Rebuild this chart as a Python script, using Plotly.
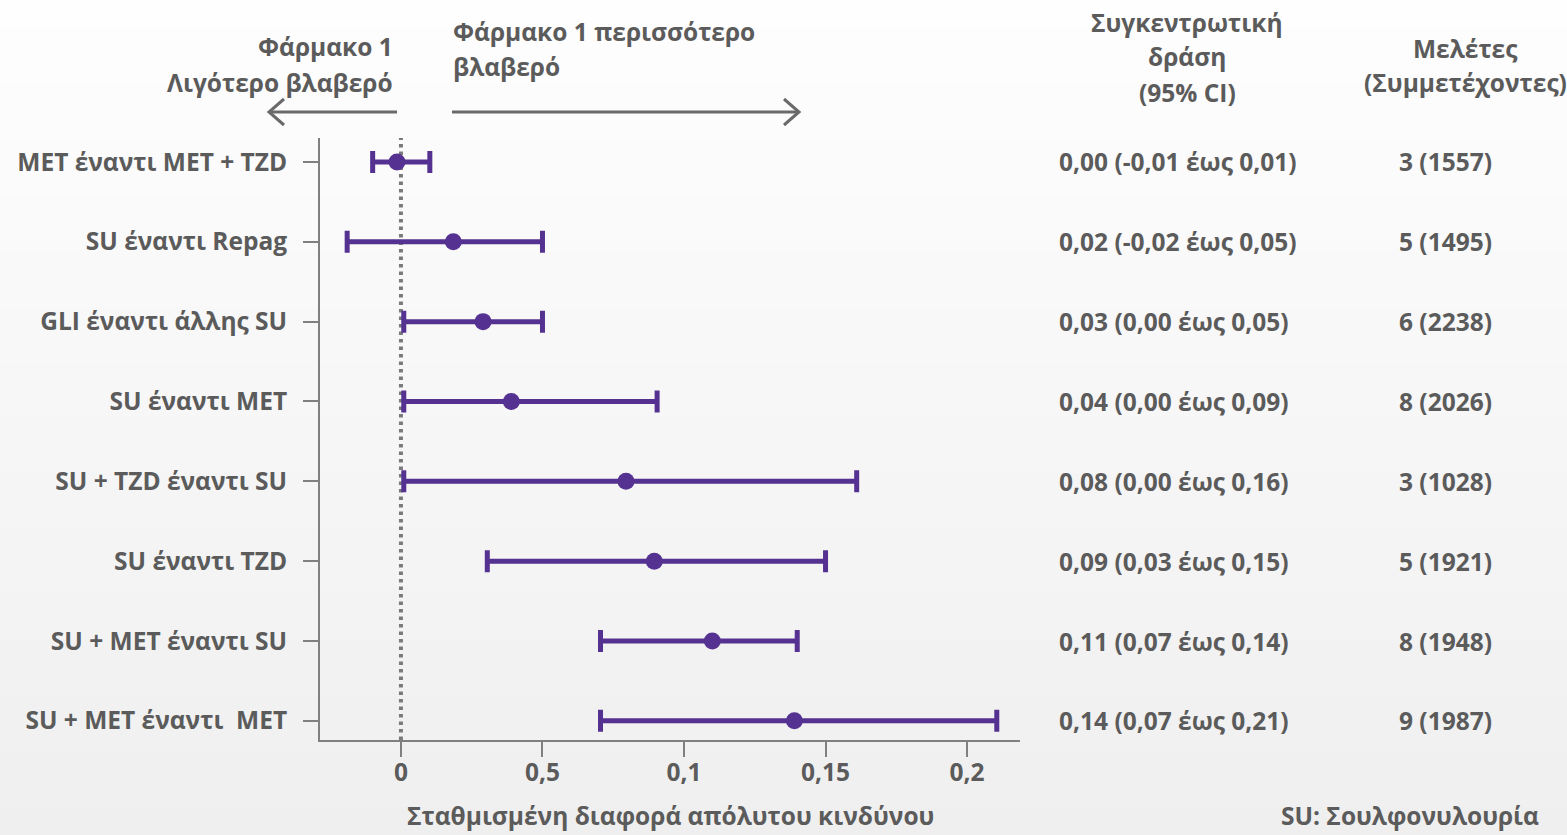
import plotly.graph_objects as go

# ---------------- data ----------------
comparisons = ["MET έναντι MET + TZD", "SU έναντι Repag", "GLI έναντι άλλης SU", "SU έναντι MET",
               "SU + TZD έναντι SU", "SU έναντι TZD", "SU + MET έναντι SU", "SU + MET έναντι  MET"]
effect = [-0.0014, 0.0185, 0.029, 0.039, 0.0795, 0.0895, 0.110, 0.139]
ci_low = [-0.010, -0.019, 0.001, 0.001, 0.001, 0.0305, 0.0705, 0.0705]
ci_high = [0.0102, 0.050, 0.050, 0.0905, 0.161, 0.150, 0.140, 0.2105]
pooled_text = ["0,00 (-0,01 έως 0,01)", "0,02 (-0,02 έως 0,05)", "0,03 (0,00 έως 0,05)",
               "0,04 (0,00 έως 0,09)", "0,08 (0,00 έως 0,16)", "0,09 (0,03 έως 0,15)",
               "0,11 (0,07 έως 0,14)", "0,14 (0,07 έως 0,21)"]
studies_text = ["3 (1557)", "5 (1495)", "6 (2238)", "8 (2026)", "3 (1028)", "5 (1921)",
                "8 (1948)", "9 (1987)"]
x_tickvals = [0, 0.05, 0.1, 0.15, 0.2]
x_ticktext = ["0", "0,5", "0,1", "0,15", "0,2"]

# ---------------- style ----------------
W, H = 1567, 835
ML, MR, MT, MB = 320, 547, 138, 95
PW, PH = W - ML - MR, H - MT - MB
FONT = "Open Sans"
TXT = "#5b5b5b"
PURPLE = "#553291"
GRAY = "#808080"
FS = 24.5

def px(xp):
    return (xp - ML) / PW

def py(yp):
    return (H - MB - yp) / PH

rows = list(range(len(comparisons)))

fig = go.Figure()
fig.add_trace(go.Scatter(
    x=effect, y=rows, mode="markers",
    marker=dict(color=PURPLE, size=17),
    error_x=dict(type="data", symmetric=False,
                 array=[h - e for h, e in zip(ci_high, effect)],
                 arrayminus=[e - l for e, l in zip(effect, ci_low)],
                 color=PURPLE, thickness=5, width=11),
    showlegend=False, hoverinfo="skip"))

shapes = []
# background gradient
n = 60
top_c, bot_c = 254, 239
for i in range(n):
    y0p = H * i / n
    y1p = H * (i + 1) / n
    v = round(top_c + (bot_c - top_c) * (i + 0.5) / n)
    shapes.append(dict(type="rect", xref="paper", yref="paper",
                       x0=px(0), x1=px(W), y0=py(y1p + 1), y1=py(y0p),
                       fillcolor=f"rgb({v},{v},{v})", line=dict(width=0), layer="below"))
# zero reference line
shapes.append(dict(type="line", xref="x", yref="paper", x0=0, x1=0, y0=0, y1=1,
                   line=dict(color="#7a7a7a", width=4, dash="3.5px,4px"), layer="below"))
# arrows
AC = "#6a6a6a"
ay = 112
shapes.append(dict(type="line", xref="paper", yref="paper", x0=px(397), x1=px(270),
                   y0=py(ay), y1=py(ay), line=dict(color=AC, width=3)))
shapes.append(dict(type="path", xref="paper", yref="paper",
                   path=f"M {px(284)},{py(ay-13)} L {px(269)},{py(ay)} L {px(284)},{py(ay+13)}",
                   line=dict(color=AC, width=3)))
shapes.append(dict(type="line", xref="paper", yref="paper", x0=px(452), x1=px(798),
                   y0=py(ay), y1=py(ay), line=dict(color=AC, width=3)))
shapes.append(dict(type="path", xref="paper", yref="paper",
                   path=f"M {px(784)},{py(ay-13)} L {px(799)},{py(ay)} L {px(784)},{py(ay+13)}",
                   line=dict(color=AC, width=3)))

ann = []
def txt(text, x, y, xanchor="left", yanchor="middle", align="left"):
    ann.append(dict(text=text, xref="paper", yref="paper", x=px(x), y=py(y),
                    xanchor=xanchor, yanchor=yanchor, align=align, showarrow=False,
                    font=dict(family=FONT, size=FS, color=TXT, weight="bold")))

txt("Φάρμακο 1", 395, 47, xanchor="right")
txt("Λιγότερο βλαβερό", 395, 82, xanchor="right")
txt("Φάρμακο 1 περισσότερο", 451, 31)
txt("βλαβερό", 451, 66)
txt("Συγκεντρωτική", 1187, 22, xanchor="center")
txt("δράση", 1187, 57, xanchor="center")
txt("(95% CI)", 1187, 92, xanchor="center")
txt("Μελέτες", 1465, 48, xanchor="center")
txt("(Συμμετέχοντες)", 1465, 83, xanchor="center")
txt("Σταθμισμένη διαφορά απόλυτου κινδύνου", 670, 834, xanchor="center", yanchor="bottom")
txt("SU: Σουλφονυλουρία", 1279, 834, yanchor="bottom")

for r, a, b in zip(rows, pooled_text, studies_text):
    ann.append(dict(text=a, xref="paper", yref="y", x=px(1057), y=r, xanchor="left",
                    yanchor="middle", showarrow=False,
                    font=dict(family=FONT, size=FS, color=TXT, weight="bold")))
    ann.append(dict(text=b, xref="paper", yref="y", x=px(1397), y=r, xanchor="left",
                    yanchor="middle", showarrow=False,
                    font=dict(family=FONT, size=FS, color=TXT, weight="bold")))

fig.update_layout(
    width=W, height=H,
    margin=dict(l=ML, r=MR, t=MT, b=MB, pad=0),
    paper_bgcolor="#f6f6f6", plot_bgcolor="rgba(0,0,0,0)",
    shapes=shapes, annotations=ann,
    xaxis=dict(range=[-0.0286, 0.2187], tickvals=x_tickvals, ticktext=x_ticktext,
               showgrid=False, zeroline=False, showline=True, linecolor=GRAY, linewidth=2,
               ticks="outside", ticklen=15, tickwidth=2, tickcolor=GRAY,
               ticklabelstandoff=-5,
               tickfont=dict(family=FONT, size=FS, color=TXT, weight="bold")),
    yaxis=dict(range=[7.24, -0.3], tickvals=rows, ticktext=comparisons,
               showgrid=False, zeroline=False, showline=True, linecolor=GRAY, linewidth=2,
               ticks="outside", ticklen=15, tickwidth=2, tickcolor=GRAY,
               ticklabelstandoff=11,
               tickfont=dict(family=FONT, size=FS, color=TXT, weight="bold")),
)

fig.write_html("out.html")
